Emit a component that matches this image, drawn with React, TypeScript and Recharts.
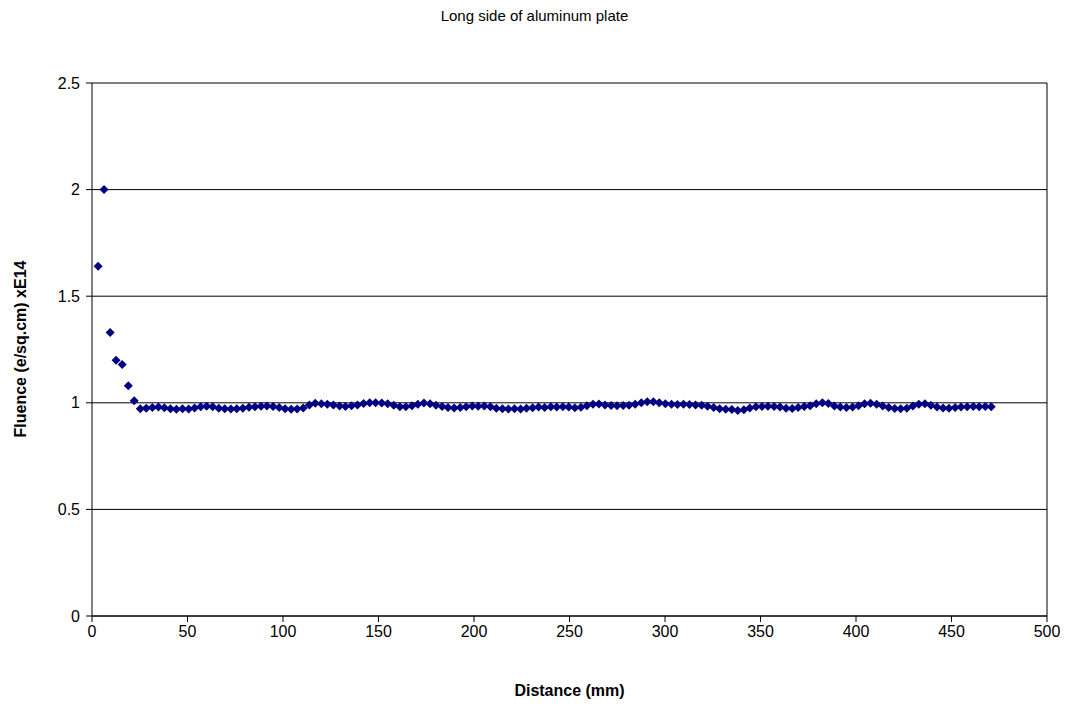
import { ScatterChart, Scatter, XAxis, YAxis, CartesianGrid, ReferenceLine, Label } from "recharts"

const distances = [
  3.2, 6.3, 9.5, 12.6, 15.8, 19.0, 22.1, 25.3, 28.4, 31.6, 34.8, 37.9, 41.1, 44.2, 47.4, 50.6,
  53.7, 56.9, 60.0, 63.2, 66.4, 69.5, 72.7, 75.8, 79.0, 82.2, 85.3, 88.5, 91.6, 94.8, 98.0, 101.1,
  104.3, 107.4, 110.6, 113.8, 116.9, 120.1, 123.2, 126.4, 129.6, 132.7, 135.9, 139.0, 142.2, 145.4,
  148.5, 151.7, 154.8, 158.0, 161.2, 164.3, 167.5, 170.6, 173.8, 177.0, 180.1, 183.3, 186.4, 189.6,
  192.8, 195.9, 199.1, 202.2, 205.4, 208.6, 211.7, 214.9, 218.0, 221.2, 224.4, 227.5, 230.7, 233.8,
  237.0, 240.2, 243.3, 246.5, 249.6, 252.8, 256.0, 259.1, 262.3, 265.4, 268.6, 271.8, 274.9, 278.1,
  281.2, 284.4, 287.6, 290.7, 293.9, 297.0, 300.2, 303.4, 306.5, 309.7, 312.8, 316.0, 319.2, 322.3,
  325.5, 328.6, 331.8, 335.0, 338.1, 341.3, 344.4, 347.6, 350.8, 353.9, 357.1, 360.2, 363.4, 366.6,
  369.7, 372.9, 376.0, 379.2, 382.4, 385.5, 388.7, 391.8, 395.0, 398.2, 401.3, 404.5, 407.6, 410.8,
  414.0, 417.1, 420.3, 423.4, 426.6, 429.8, 432.9, 436.1, 439.2, 442.4, 445.6, 448.7, 451.9, 455.0,
  458.2, 461.4, 464.5, 467.7, 470.8,
]

const fluence = [
  1.64, 2.0, 1.33, 1.2, 1.18, 1.08, 1.01, 0.972, 0.975, 0.978, 0.98, 0.977, 0.972, 0.97, 0.972, 0.971,
  0.976, 0.982, 0.984, 0.981, 0.975, 0.972, 0.971, 0.972, 0.975, 0.979, 0.982, 0.984, 0.985, 0.983, 0.978, 0.972,
  0.97, 0.971, 0.976, 0.99, 0.998, 0.995, 0.993, 0.99, 0.985, 0.983, 0.986, 0.99, 0.997, 1.0,
  1.0, 0.999, 0.996, 0.988, 0.982, 0.982, 0.986, 0.993, 0.999, 0.996, 0.988, 0.983, 0.978, 0.976,
  0.978, 0.982, 0.985, 0.984, 0.985, 0.982, 0.975, 0.972, 0.971, 0.972, 0.971, 0.974, 0.977, 0.98,
  0.978, 0.981, 0.98, 0.982, 0.98, 0.977, 0.979, 0.986, 0.993, 0.994, 0.99, 0.987, 0.986, 0.987,
  0.988, 0.993, 1.0, 1.005, 1.005, 1.0, 0.995, 0.993, 0.992, 0.993, 0.992, 0.99, 0.988, 0.984,
  0.978, 0.972, 0.97, 0.968, 0.964, 0.967, 0.976, 0.981, 0.983, 0.984, 0.983, 0.98, 0.974, 0.973,
  0.978, 0.983, 0.986, 0.995, 1.0, 0.997, 0.985, 0.98, 0.978, 0.98, 0.986, 0.996, 0.998, 0.993,
  0.985, 0.978, 0.973, 0.972, 0.975, 0.985, 0.993, 0.995, 0.988, 0.98, 0.976, 0.975, 0.978, 0.98,
  0.982, 0.983, 0.982, 0.983, 0.982,
]

const xTicks = [0, 50, 100, 150, 200, 250, 300, 350, 400, 450, 500]
const yTicks = [0, 0.5, 1, 1.5, 2, 2.5]

const data = distances.map((d, i) => ({ distance: d, fluence: fluence[i] }))

const font = "Arial, 'Liberation Sans', sans-serif"

// excel style square diamond
const Diamond = (props: any) => {
  const { cx, cy } = props
  const r = 4.5
  return (
    <polygon
      points={`${cx},${cy - r} ${cx + r},${cy} ${cx},${cy + r} ${cx - r},${cy}`}
      fill="#000080"
    />
  )
}

export default function App() {
  return (
    <div style={{ position: "absolute", left: 0, top: 0, width: 1069, height: 706, background: "#fff", fontFamily: font }}>
      <div style={{ position: "absolute", top: 7, width: 1069, textAlign: "center", fontSize: 15, color: "#000" }}>
        Long side of aluminum plate
      </div>
      <ScatterChart width={1069} height={706} margin={{ top: 83, right: 22, bottom: 56, left: 28 }}>
        <CartesianGrid horizontal vertical={false} stroke="#000" strokeOpacity={1} />
        <XAxis
          type="number"
          dataKey="distance"
          domain={[0, 500]}
          ticks={xTicks}
          interval={0}
          height={34}
          stroke="#000"
          tickSize={6}
          tickMargin={4}
          tick={{ fill: "#000", fontSize: 16, fontFamily: font }}
        >
          <Label value="Distance (mm)" position="insideBottom" offset={-46} fill="#000" fontSize={16} fontWeight="bold" fontFamily={font} />
        </XAxis>
        <YAxis
          type="number"
          dataKey="fluence"
          domain={[0, 2.5]}
          ticks={yTicks}
          interval={0}
          width={64}
          stroke="#000"
          tickSize={6}
          tickMargin={6}
          tick={{ fill: "#000", fontSize: 16, fontFamily: font }}
        >
          <Label value="Fluence (e/sq.cm) xE14" angle={-90} position="insideLeft" offset={-8} dy={88} fill="#000" fontSize={16} fontWeight="bold" fontFamily={font} />
        </YAxis>
        <ReferenceLine x={500} stroke="#000" />
        <Scatter data={data} shape={Diamond} isAnimationActive={false} />
      </ScatterChart>
    </div>
  )
}
